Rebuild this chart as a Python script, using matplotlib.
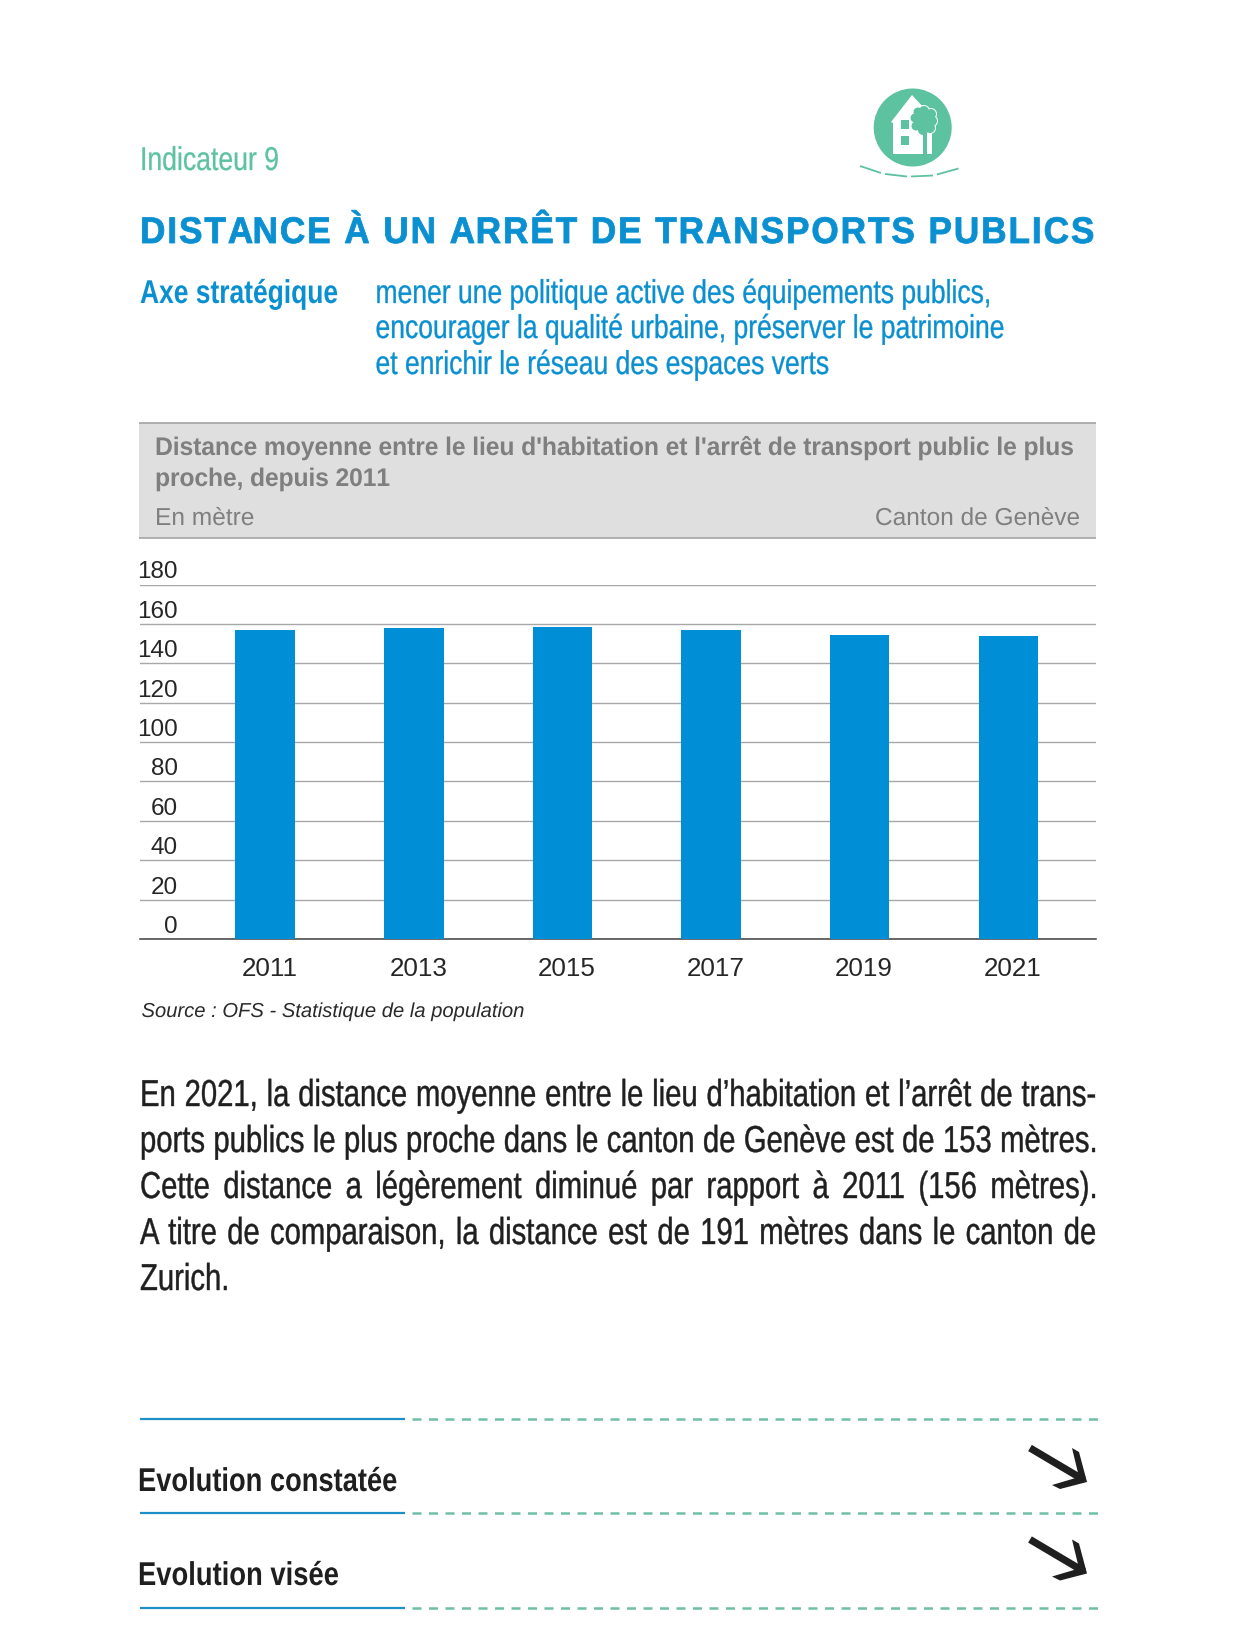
import matplotlib
matplotlib.use("Agg")
import matplotlib.pyplot as plt
from matplotlib.colors import to_rgb
from matplotlib.patches import Circle, Polygon, Rectangle
from matplotlib.path import Path
from matplotlib.text import Text
from matplotlib.textpath import TextPath, text_to_path
from matplotlib.transforms import Affine2D, Bbox, ScaledTranslation

W, H = 1236, 1631
years = ["2011", "2013", "2015", "2017", "2019", "2021"]
distance = [156.7, 157.7, 158.2, 156.8, 154.6, 153.6]
y_ticks = [0, 20, 40, 60, 80, 100, 120, 140, 160, 180]

BLUE = "#0A8FD0"
BAR = "#008FD6"
GREEN = "#5CC29F"
GREY_TXT = "#7F7F7F"
DARK = "#1F1F1F"
SANS = ["Liberation Sans"]

fig = plt.figure(figsize=(W / 100, H / 100), dpi=100, facecolor="white")
bg = fig.add_axes([0, 0, 1, 1])
bg.set_xlim(0, W)
bg.set_ylim(H, 0)
bg.axis("off")
PX = 0.72  # px -> pt at dpi 100


class ScaledText(Text):
    """Real text drawn with condensed glyphs, letter spacing and word spacing, as in the source face.
    Its layout box reports the width actually drawn."""

    def __init__(self, *a, xscale=1.0, tracking=0.0, word_extra=0.0, stroke=0.0, **k):
        super().__init__(*a, **k)
        self.xscale = xscale
        self.tracking = tracking
        self.word_extra = word_extra
        self.stroke = stroke

    def _px(self):
        return self.get_fontsize() * self.figure.dpi / 72

    def _adv(self, s, k):
        prop = self.get_fontproperties()
        return text_to_path.get_text_width_height_descent(s, prop, False)[0] * k if s else 0.0

    def _path(self):
        px = self._px()
        prop = self.get_fontproperties()
        s = self.get_text()
        k = px / self.get_fontsize()
        if self.tracking:
            parts = []
            for i, c in enumerate(s):
                if c != " ":
                    parts.append(TextPath((self._adv(s[:i], k) + i * self.tracking / self.xscale, 0), c,
                                          size=px, prop=prop))
            return Path.make_compound_path(*parts)
        if self.word_extra:
            parts, pos, n = [], 0, 0
            for w in s.split(" "):
                parts.append(TextPath((self._adv(s[:pos], k) + n * self.word_extra / self.xscale, 0), w,
                                      size=px, prop=prop))
                pos += len(w) + 1
                n += 1
            return Path.make_compound_path(*parts)
        return TextPath((0, 0), s, size=px, prop=prop)

    def natural_width(self):
        return self._path().get_extents().x1

    def draw(self, renderer):
        if not self.get_visible():
            return
        x, y = self.get_transform().transform(self.get_position())
        tr = Affine2D().scale(self.xscale, 1).translate(x, y)
        rgb = to_rgb(self.get_color())
        gc = renderer.new_gc()
        gc.set_antialiased(True)
        gc.set_foreground(rgb)
        gc.set_linewidth(self.stroke)
        renderer.draw_path(gc, self._path(), tr, rgb)
        gc.restore()

    def _get_layout(self, renderer):
        b, info, descent = super()._get_layout(renderer)
        return Bbox.from_bounds(b.x0, b.y0, self.natural_width() * self.xscale, b.height), info, descent


def txt(x, y, s, size, color, weight="normal", style="normal", xscale=1.0, fit=None, track_to=None,
        justify_to=None, stroke=0.0):
    t = ScaledText(x, y, s, fontsize=size * PX, color=color, family=SANS, weight=weight,
                   style=style, ha="left", va="baseline", xscale=xscale, stroke=stroke)
    bg.add_artist(t)
    t.set_clip_on(False)
    if fit is not None:
        t.xscale = fit / t.natural_width()
    if track_to is not None:
        t.tracking = (track_to - t.natural_width() * t.xscale) / (len(s) - 1)
    if justify_to is not None:
        t.word_extra = (justify_to - t.natural_width() * t.xscale) / s.count(" ")
    return t


# icon
bg.add_patch(Circle((912.7, 128.5), 39, color=GREEN, lw=0))
bg.add_patch(Polygon([(912, 96), (891, 123), (893, 124), (893, 155), (932, 155), (932, 124), (925, 110)],
                     closed=True, fc="white", ec="none"))
for r in [(901, 121, 8, 9), (901, 137, 8, 9)]:
    bg.add_patch(Rectangle((r[0], r[1]), r[2], r[3], fc=GREEN, ec="none"))
lobes = [(924, 112, 5), (931, 115, 5), (932, 122, 5), (930, 129, 5), (923, 131, 5), (916, 127, 4.5),
         (915, 119, 4.5), (918, 113, 4.5), (924, 121, 9)]
for c in lobes:
    bg.add_patch(Circle(c[:2], c[2] + 1, fc="white", ec="none"))
for c in lobes:
    bg.add_patch(Circle(c[:2], c[2], fc=GREEN, ec="none"))
bg.add_patch(Rectangle((923, 133), 3.5, 22, fc=GREEN, ec="none"))
for seg in [((860, 167), (881, 174)), ((885, 175), (907, 177.5)), ((911, 177.5), (933, 176.5)), ((937, 175.5), (958.5, 169.5))]:
    bg.plot([seg[0][0], seg[1][0]], [seg[0][1], seg[1][1]], color=GREEN, lw=1.3, solid_capstyle="butt")

# headings
txt(140, 171, "Indicateur 9", 33, GREEN, xscale=0.806, stroke=0.2)
txt(140, 244, "DISTANCE À UN ARRÊT DE TRANSPORTS PUBLICS", 37, BLUE, weight="bold", xscale=0.95, track_to=953,
    stroke=0.6)
txt(140, 304, "Axe stratégique", 33, BLUE, weight="bold", xscale=0.80)
for y, s in zip([304, 339, 375], ["mener une politique active des équipements publics,",
                                  "encourager la qualité urbaine, préserver le patrimoine",
                                  "et enrichir le réseau des espaces verts"]):
    txt(375.5, y, s, 33, BLUE, xscale=0.803, stroke=0.25)

# chart header
bg.add_patch(Rectangle((139, 423.5), 957, 115, fc="#DFDFDF", ec="none"))
bg.plot([139, 1096], [423.5, 423.5], color="#A3A3A3", lw=1.2, solid_capstyle="butt")
bg.plot([139, 1096], [538.5, 538.5], color="#A3A3A3", lw=1.2, solid_capstyle="butt")
txt(155, 456, "Distance moyenne entre le lieu d'habitation et l'arrêt de transport public le plus",
    25.5, GREY_TXT, weight="bold", xscale=0.97, track_to=918)
txt(155, 487, "proche, depuis 2011", 25.5, GREY_TXT, weight="bold", xscale=0.97, track_to=233)
txt(155, 526, "En mètre", 24.5, GREY_TXT)
txt(875, 526, "Canton de Genève", 24.5, GREY_TXT, fit=204)

# chart
ax = fig.add_axes([140 / W, (H - 940) / H, 956 / W, 354.5 / H], facecolor="none")
x = list(range(len(years)))
ax.bar(x, distance, width=0.4, color=BAR, zorder=3)
ax.set_xlim(-0.842, 5.59)
ax.set_ylim(0, 180)
ax.set_yticks(y_ticks)
ax.set_xticks(x)
ax.set_xticklabels(years)
ax.grid(axis="y", color="#A8A8A8", lw=1.0, zorder=0)
ax.set_axisbelow(True)
for side in ["top", "left", "right"]:
    ax.spines[side].set_visible(False)
ax.spines["bottom"].set_color("#404040")
ax.spines["bottom"].set_linewidth(1.1)
ax.tick_params(axis="x", length=0, pad=12, labelsize=26 * PX, labelcolor="#262626")
ax.tick_params(axis="y", length=0, pad=-27.3, labelsize=24.3 * PX, labelcolor="#262626")
for lab in ax.get_xticklabels():
    lab.set_family(SANS)
    lab.set_transform(lab.get_transform() + ScaledTranslation(4.5 / 100, 0, fig.dpi_scale_trans))
for lab in ax.get_yticklabels():
    lab.set_family(SANS)
    lab.set_transform(lab.get_transform() + ScaledTranslation(0, 15.5 / 100, fig.dpi_scale_trans))

txt(141.5, 1018, "Source : OFS - Statistique de la population", 20.2, "#2A2A2A", style="italic")

# paragraph
para = [("En 2021, la distance moyenne entre le lieu d’habitation et l’arrêt de trans-", 1107, True),
        ("ports publics le plus proche dans le canton de Genève est de 153 mètres.", 1153, True),
        ("Cette distance a légèrement diminué par rapport à 2011 (156 mètres).", 1199, True),
        ("A titre de comparaison, la distance est de 191 mètres dans le canton de", 1245, True),
        ("Zurich.", 1291, False)]
for s, y, j in para:
    txt(140, y, s, 37.5, "#1F1F1F", xscale=0.78, stroke=0.3, justify_to=955 if j else None)

# footer
for y in [1420, 1514, 1609]:
    bg.plot([140, 405], [y, y], color="#1E90C8", lw=1.6, solid_capstyle="butt")
    bg.plot([411.5, 1099], [y, y], color="#6FBFA5", lw=1.8, dashes=(9 * 0.72 / 1.8, 7.5 * 0.72 / 1.8),
            dash_capstyle="butt")
txt(138, 1492, "Evolution constatée", 33, DARK, weight="bold", xscale=0.827)
txt(138, 1586, "Evolution visée", 33, DARK, weight="bold", xscale=0.83)
for dy in [0, 91.5]:
    bg.plot([1030, 1084], [1449 + dy, 1481 + dy], color=DARK, lw=5.2, solid_capstyle="butt")
    bg.add_patch(Polygon([(1072, 1449 + dy), (1079, 1453 + dy), (1087, 1483 + dy), (1060, 1490 + dy), (1052, 1486 + dy),
                          (1079, 1478 + dy)], closed=True, fc=DARK, ec="none"))

fig.savefig("out.png", dpi=100, facecolor="white")
